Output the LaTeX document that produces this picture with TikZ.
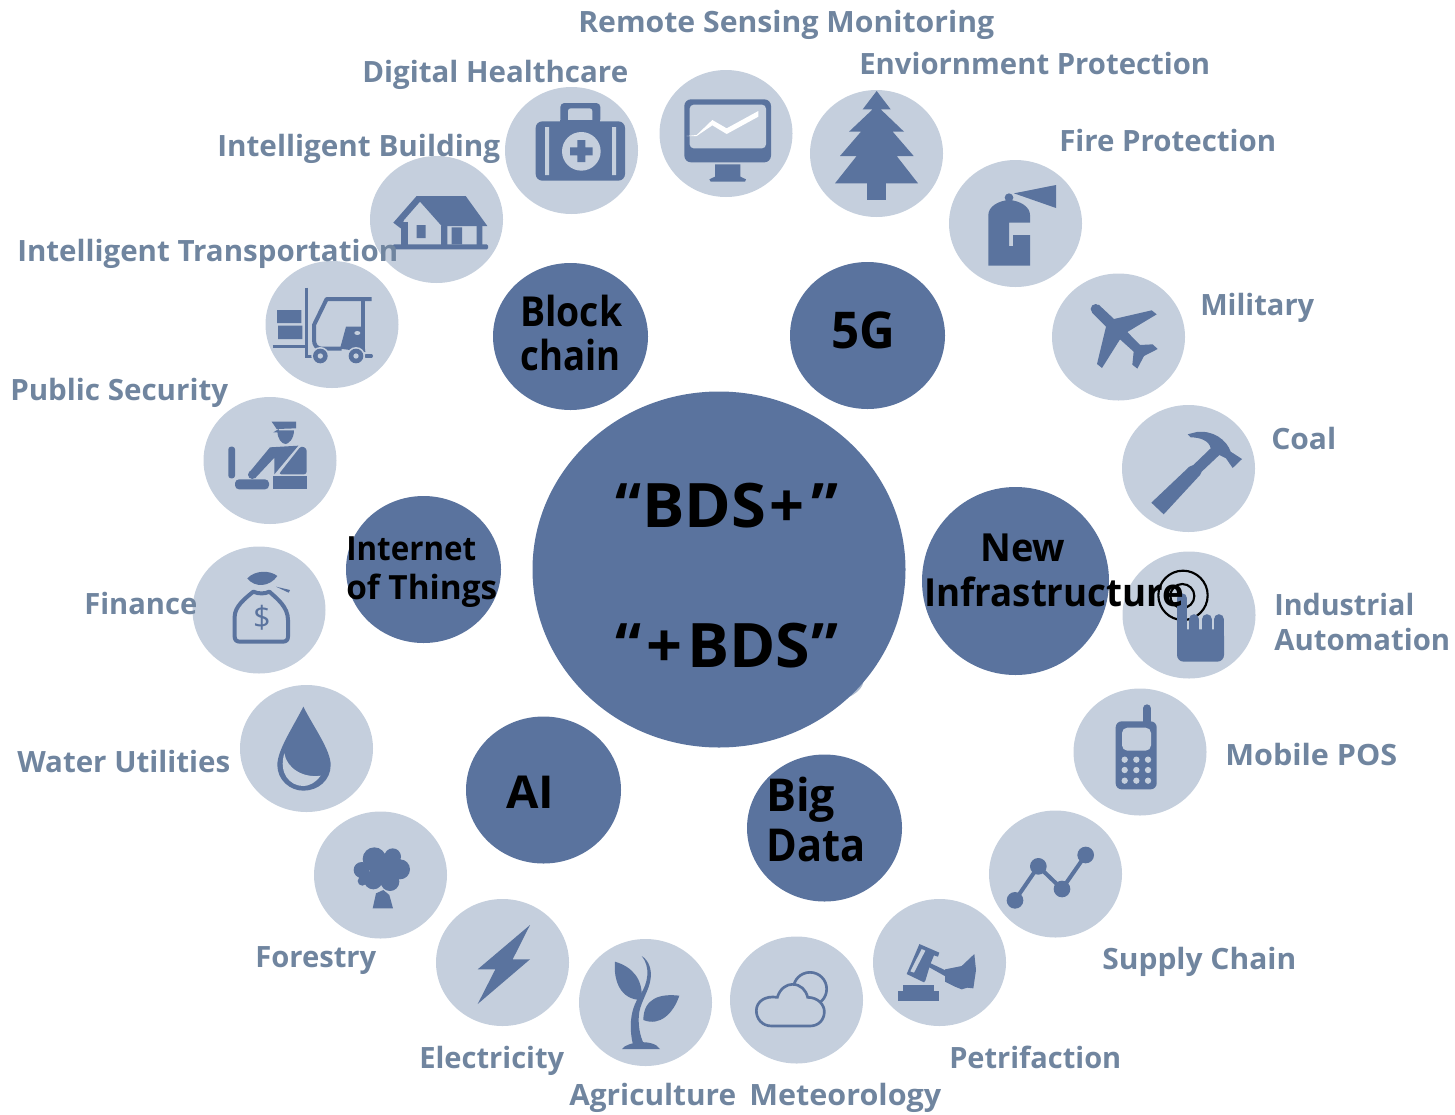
\documentclass[tikz,border=0pt]{standalone}
\usepackage{fontspec}
\setmainfont{Open Sans}
\definecolor{darkc}{HTML}{5A739E}
\definecolor{lightc}{HTML}{C5CFDD}
\definecolor{labc}{HTML}{70859F}
\newlength\lablen
\newcommand\lab[7]{%
  \node[anchor=base west,inner sep=0pt,text=#6,font=\fontsize{#5}{#5}\selectfont\bfseries] (#1) at ({#2-1},{#4-0.2}) {\setbox0=\hbox{#7}\lablen=\wd0 \pgfmathsetmacro\rat{(#3-#2+1)*0.75/\lablen}\scalebox{\rat}[1]{#7}};%
}
\newcommand\lc[2]{\fill[lightc] (#1,#2) ellipse [x radius=66.5,y radius=63.5];}
\newcommand\dc[2]{\fill[darkc] (#1,#2) ellipse [x radius=77.5,y radius=73.5];}
\tikzset{zoomat/.style args={#1/#2}{shift={(#1,#2)},x=0.25pt,y=-0.25pt},
  ic/.style={fill=darkc,draw=none},
  il/.style={fill=lightc,draw=none}}
\begin{document}
\begin{tikzpicture}[x=0.75pt,y=-0.75pt]
\useasboundingbox (0,0) rectangle (1455,1114);
% sliver of a light disc hidden behind the centre
\begin{scope}[zoomat=780/640]
 \fill[lightc!75!darkc] (254,112) -- (247,136) .. controls (240,150) and (225,163) .. (203,173) -- (170,140) -- cycle;
\end{scope}
% light discs
\lc{571.5}{150.5}\lc{726}{133.5}\lc{876.5}{153.5}\lc{1015.5}{223.5}
\lc{1118.5}{337}\lc{1188.5}{468.5}\lc{1189}{615}\lc{1140}{752}
\lc{1055.5}{874}\lc{939.5}{962.5}\lc{796.5}{1000}\lc{645.5}{1002.5}
\lc{502.5}{962.5}\lc{380.5}{875}\lc{306.5}{748.5}\lc{259}{610}
\lc{270}{460.5}\lc{332}{324.5}\lc{436.5}{219.5}
% dark discs
\dc{570.5}{336.5}\dc{867.5}{335.5}\dc{423.5}{569.5}\dc{543.5}{790}\dc{824.5}{828}
\fill[darkc] (1015.5,581) ellipse [x radius=93.5,y radius=94];
\fill[darkc] (719,569.5) ellipse [x radius=186.5,y radius=178];

% ---- icons, zoom 1
\begin{scope}[zoomat=500/60]
 % medkit
 \fill[ic,rounded corners=5pt] (107,184) rectangle (375,362);
 \fill[ic,rounded corners=3pt] (181,129) rectangle (301,190);
 \fill[il,rounded corners=2pt] (204,145) rectangle (277,195);
 \fill[ic] (181,180) rectangle (301,200);
 \fill[il] (135,201) rectangle (147,345) (336,201) rectangle (348,345);
 \fill[il] (244,274) circle (58);
 \fill[ic] (210,262) rectangle (278,286) (232,240) rectangle (256,306);
 % monitor
 \fill[ic,rounded corners=5pt] (553,118) rectangle (813,307);
 \fill[il,rounded corners=3pt] (569,134) rectangle (798,265);
 \fill[ic] (645,313)--(721,313)--(721,350)--(738,358)--(735,365)--(632,365)--(628,358)--(645,350)--cycle;
 \fill[white] (560,228)--(590,225)--(637,180)--(680,205)--(775,153)--(775,170)--(680,222)--(637,196)--(590,228)--cycle;
 % fir
 \fill[ic] (1102,365) rectangle (1158,420);
 \fill[ic] (1130,93)--(1172,148)--(1142,148)--(1212,215)--(1178,215)--(1241,288)--(1190,288)--(1254,370)--(1005,370)--(1070,288)--(1020,288)--(1083,215)--(1047,215)--(1118,148)--(1088,148)--cycle;
\end{scope}
% ---- zoom 2
\begin{scope}[zoomat=940/150]
 \fill[ic] (207,143) circle (13);
 \fill[ic] (145,347)--(145,195) .. controls (145,170) and (175,152) .. (207,150) .. controls (240,152) and (270,170) .. (270,195)--(270,218)--(207,218)--(207,288)--(219,288)--(219,255)--(270,255)--(270,347)--cycle;
 \fill[ic] (222,130)--(348,105)--(348,174)--cycle;
 % plane
 \fill[ic] (467,477) circle (15);
 \fill[ic] (456,488)--(476,464)--(522,507)--(635,481)--(650,493)--(562,546)--(600,585)--(638,583)--(653,597)--(612,618)--(592,656)--(577,644)--(581,605)--(540,568)--(486,654)--(471,642)--(498,530)--cycle;
 % hammer
 \fill[ic] (634,1058)--(748,950)--(760,945)--(812,895) .. controls (808,872) and (780,862) .. (752,862)--(743,853)--(770,846) .. controls (820,840) and (860,870) .. (872,905)--(906,927)--(878,954)--(858,925)--(838,915)--(785,965)--(780,975)--(671,1093)--cycle;
\end{scope}
% ---- zoom 3
\begin{scope}[zoomat=1000/540]
 \draw[black,line width=1.6pt] (549,166) circle (74);
 \draw[black,line width=1.6pt] (547,168) circle (36);
 \draw[darkc,line width=7.6pt,line cap=round] (546,175)--(546,300);
 \draw[darkc,line width=7.75pt,line cap=round] (582.5,238)--(582.5,300) (620.5,238)--(620.5,300) (656.5,238)--(656.5,300);
 \fill[ic,rounded corners=5pt] (531,268) rectangle (672,365);
 % phone
 \draw[darkc,line width=6pt,line cap=round] (441,505)--(441,560);
 \fill[ic,rounded corners=4.5pt] (347,544) rectangle (470,748);
 \fill[il,rounded corners=4pt] (366,563) rectangle (453,632);
 \foreach \xx in {374,409,444}\foreach \yy in {659,690,722}{\fill[il] (\xx,\yy) circle (9.5);}
 % chain
 \draw[darkc,line width=3pt] (45,1081)--(115,979)--(186,1047)--(257,945);
 \fill[ic] (45,1081) circle (25) (115,979) circle (25) (186,1047) circle (25) (257,945) circle (25);
\end{scope}
% ---- zoom 4
\begin{scope}[zoomat=560/890]
 % sprout
 \fill[ic] (186,477) .. controls (200,455) and (280,445) .. (300,477)--cycle;
 \fill[ic] (218,460) .. controls (205,400) and (215,350) .. (240,315) .. controls (265,280) and (272,230) .. (245,198) .. controls (268,212) and (275,240) .. (272,265) .. controls (268,300) and (245,330) .. (238,365) .. controls (232,400) and (240,440) .. (252,462)--cycle;
 \fill[ic] (165,215) .. controls (215,230) and (250,265) .. (245,330) .. controls (180,330) and (160,270) .. (165,215)--cycle;
 \fill[ic] (358,317) .. controls (300,310) and (250,325) .. (250,390) .. controls (300,410) and (340,370) .. (358,317)--cycle;
 % cloud
 \draw[darkc,line width=2pt] (750,297) circle (50);
 \draw[darkc,line width=2pt,fill=lightc] (635,408) .. controls (605,408) and (589,385) .. (589,362) .. controls (589,335) and (615,316) .. (652,322) .. controls (660,295) and (680,283) .. (697,283) .. controls (722,283) and (738,300) .. (743,322) .. controls (775,322) and (793,345) .. (793,365) .. controls (793,390) and (775,408) .. (750,408)--cycle;
\end{scope}
% gavel
\begin{scope}[zoomat=890/930]
 \fill[ic] (25,183) rectangle (147,213);
 \fill[ic] (38,165) rectangle (133,184);
 \fill[ic] (88,42)--(148,68)--(144,80)--(132,76)--(122,100)--(175,125)--(168,140)--(118,112)--(106,152)--(102,157)--(50,132)--(84,52)--cycle;
 \fill[il] (95,57)--(106,62)--(72,128)--(61,124)--cycle;
 \fill[ic] (165,118)--(215,108)--(253,72)--(258,120)--(250,175)--(232,173)--(215,178)--(195,170)--(165,155)--cycle;
\end{scope}
% ---- zoom 5
\begin{scope}[zoomat=190/680]
 \fill[ic] (340,80) .. controls (310,140) and (262,210) .. (262,255) .. controls (262,300) and (300,332) .. (340,332) .. controls (385,332) and (422,300) .. (422,255) .. controls (422,210) and (370,140) .. (340,80)--cycle;
 \fill[il] (283,220) .. controls (290,265) and (340,295) .. (392,287) .. controls (375,310) and (355,318) .. (340,318) .. controls (300,318) and (265,280) .. (283,220)--cycle;
 % tree
 \fill[ic] (553,537) circle (35) (608,530) circle (25) (630,568) circle (30) (600,605) circle (28) (550,600) circle (28) (515,570) circle (24) (517,603) circle (14) (575,570) circle (35);
 \fill[ic] (548,685)--(558,640)--(580,630)--(598,645)--(609,685)--cycle;
 % bolt
 \fill[ic] (1020,735)--(968,838)--(1020,838)--(863,972)--(916,868)--(863,868)--cycle;
\end{scope}
% officer
\begin{scope}[zoomat=220/415]
 \fill[ic] (155,20)--(228,20)--(228,40)--(170,42)--cycle;
 \fill[ic] (160,52)--(176,42)--(178,52)--cycle;
 \fill[ic] (172,46)--(222,46) .. controls (222,72) and (205,87) .. (197,87) .. controls (185,87) and (172,72) .. (172,46)--cycle;
 \fill[ic,rounded corners=2pt] (243,93)--(260,100)--(260,178)--(176,178)--cycle;
 \fill[ic] (150,97)--(235,92)--(163,178)--(163,128)--(105,190)--(88,172)--cycle;
 \fill[ic] (97,179) circle (13);
 \fill[ic,rounded corners=2pt] (25,95) -- (45,95) -- (45,190) -- (25,190) -- cycle;
 \fill[ic,rounded corners=3pt] (45,193) rectangle (147,223);
 \fill[ic] (160,183) rectangle (260,223);
\end{scope}
% ---- zoom 6
\begin{scope}[zoomat=190/390]
 % money bag
 \fill[ic] (172,565) .. controls (195,540) and (240,540) .. (262,558) .. controls (240,590) and (195,595) .. (172,565)--cycle;
 \fill[ic] (258,590)--(300,600)--(296,608)--cycle;
 \draw[darkc,line width=3pt,line join=round] (190,605) .. controls (205,612) and (225,612) .. (238,605) .. controls (260,625) and (294,650) .. (294,690)--(294,740) .. controls (294,750) and (288,755) .. (278,755)--(150,755) .. controls (140,755) and (134,750) .. (134,740)--(134,680) .. controls (134,650) and (165,625) .. (190,605)--cycle;
 \node[text=darkc,inner sep=0pt,font=\fontsize{23}{23}\selectfont] (dollar) at (216,682) {\$};
\end{scope}
% ---- zoom 7
\begin{scope}[zoomat=260/150]
 % house
 \fill[ic] (400,218)--(470,138)--(617,138)--(682,228)--(545,228)--(480,155)--(432,210)--(422,235)--cycle;
 \fill[ic] (422,215) rectangle (443,285);
 \fill[ic,rounded corners=1pt] (398,283) rectangle (684,298);
 \fill[ic] (543,228) rectangle (562,285) (650,228) rectangle (667,285) (575,232) rectangle (606,283) (470,225) rectangle (497,264);
 % forklift
 \draw[darkc,line width=2pt] (139,413)--(139,620)--(155,620);
 \draw[darkc,line width=2pt] (38,590)--(135,590);
 \fill[ic] (51,480) rectangle (124,519) (54,527) rectangle (127,567);
 \draw[darkc,line width=3pt,line join=round] (335,447)--(200,447)--(162,525)--(162,570) .. controls (162,585) and (170,596) .. (185,596)--(245,596);
 \draw[darkc,line width=3pt] (308,447)--(308,600);
 \fill[ic] (258,530)--(308,530)--(316,606)--(240,596)--cycle;
 \fill[il] (292,549) ellipse (9 and 6);
 \draw[darkc,line width=2.5pt,line cap=round] (318,618)--(334,618);
 \foreach \xx in {181,288}{\fill[il] (\xx,618) circle (27); \fill[ic] (\xx,618) circle (22); \fill[il] (\xx,618) circle (8);}
\end{scope}

% ---- labels
\def\sz{22}
\lab{l1}{579}{994}{33}{\sz}{labc}{Remote Sensing Monitoring}
\lab{l2}{363}{628}{83}{\sz}{labc}{Digital Healthcare}
\lab{l3}{860}{1210}{75}{\sz}{labc}{Enviornment Protection}
\lab{l4}{1060}{1276}{152}{\sz}{labc}{Fire Protection}
\lab{l5}{218}{500}{157}{\sz}{labc}{Intelligent Building}
\lab{l6}{18}{398}{262}{\sz}{labc}{Intelligent Transportation}
\lab{l7}{1201}{1314}{316}{\sz}{labc}{Military}
\lab{l8}{11}{228}{401}{\sz}{labc}{Public Security}
\lab{l9}{1272}{1336}{450}{\sz}{labc}{Coal}
\lab{l10}{1275}{1414}{616}{\sz}{labc}{Industrial}
\lab{l11}{1275}{1450}{651}{\sz}{labc}{Automation}
\lab{l12}{85}{197}{615}{\sz}{labc}{Finance}
\lab{l13}{1226}{1397}{766}{\sz}{labc}{Mobile POS}
\lab{l14}{18}{230}{773}{\sz}{labc}{Water Utilities}
\lab{l15}{256}{376}{968}{\sz}{labc}{Forestry}
\lab{l16}{1103}{1296}{970}{\sz}{labc}{Supply Chain}
\lab{l17}{950}{1121}{1069}{\sz}{labc}{Petrifaction}
\lab{l18}{420}{564}{1069}{\sz}{labc}{Electricity}
\lab{l19}{570}{736}{1106}{\sz}{labc}{Agriculture}
\lab{l20}{750}{941}{1106}{\sz}{labc}{Meteorology}
% dark disc texts
\lab{d1}{521}{622}{327}{31}{black}{Block}
\lab{d2}{521}{620}{371}{31}{black}{chain}
\lab{d3}{832}{895}{349}{38}{black}{5G}
\lab{d4}{981}{1065}{562}{29}{black}{New}
\lab{d5}{925}{1184}{607}{29}{black}{Infrastructure}
\lab{d6}{347}{476}{561}{25}{black}{Internet}
\lab{d7}{347}{497}{600}{25}{black}{of Things}
\lab{d8}{507}{554}{809}{34}{black}{AI}
\lab{d9}{767}{835}{812}{34}{black}{Big}
\lab{d10}{767}{865}{862}{34}{black}{Data}
% centre texts
\lab{c1a}{616}{641}{528}{46}{black}{“}
\lab{c1b}{643}{766}{528}{46}{black}{BDS}
\lab{c1c}{770}{804}{528}{46}{black}{+}
\lab{c1d}{812}{838}{528}{46}{black}{”}
\lab{c2a}{616}{641}{668}{46}{black}{“}
\lab{c2c}{647}{682}{668}{46}{black}{+}
\lab{c2b}{688}{810}{668}{46}{black}{BDS}
\lab{c2d}{812}{838}{668}{46}{black}{”}
\end{tikzpicture}
\end{document}
